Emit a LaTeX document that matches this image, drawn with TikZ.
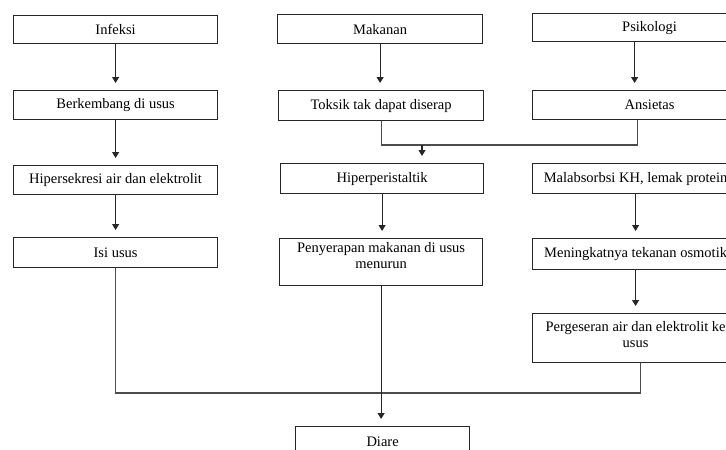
\documentclass[tikz,border=0pt]{standalone}
\usepackage{fontspec}
\setmainfont{Liberation Serif}
\usetikzlibrary{arrows.meta, positioning}

\begin{document}
\begin{tikzpicture}[
  x=1pt, y=-1pt,
  font=\fontsize{14.5}{16}\selectfont,
  box/.style={
    draw=black!85,
    line width=1.2pt,
    anchor=north west,
    align=center,
    inner sep=2pt,
    minimum height=29pt
  },
  arr/.style={
    draw=black!85,
    line width=1.1pt,
    -{Triangle[length=6pt,width=7pt]},
    shorten >=7pt
  },
  link/.style={
    draw=black!70,
    line width=1.1pt
  }
]

\useasboundingbox (0,0) rectangle (726,450);
\clip (0,0) rectangle (726,450);

% -------------------------------------------------------------------
% Infeksi column
% -------------------------------------------------------------------
\node[box, minimum width=204pt, minimum height=28pt] (infeksi) at (13,15)
{Infeksi};
\node[box, minimum width=204pt] (berkembang) at (13,90)
{Berkembang di usus};
\node[box, minimum width=204pt] (hipersekresi) at (13,165)
{Hipersekresi air dan elektrolit};
\node[box, minimum width=204pt, minimum height=30pt] (isi) at (13,237)
{Isi usus};

% -------------------------------------------------------------------
% Makanan column
% -------------------------------------------------------------------
\node[box, minimum width=205pt] (makanan) at (277,14)
{Makanan};
\node[box, minimum width=205pt, minimum height=30pt] (toksik) at (278,90)
{Toksik tak dapat diserap};
\node[box, minimum width=203pt, minimum height=30pt] (hiper) at (280,163)
{Hiperperistaltik};
\node[box, minimum width=203pt, minimum height=47pt, text depth=14pt] (penyerapan) at (279,238)
{Penyerapan makanan di usus\\menurun};
\node[box, minimum width=174pt, minimum height=30pt] (diare) at (295,426)
{Diare};

% -------------------------------------------------------------------
% Psikologi column
% -------------------------------------------------------------------
\node[box, minimum width=234pt, minimum height=28pt] (psikologi) at (532,13)
{Psikologi};
\node[box, minimum width=234pt] (ansietas) at (532,90)
{Ansietas};
\node[box, minimum width=206pt, minimum height=30pt] (malabsorbsi) at (532,163)
{Malabsorbsi KH, lemak protein};
\node[box, minimum width=206pt, minimum height=31pt] (meningkat) at (532,238)
{Meningkatnya tekanan osmotik};
\node[box, minimum width=206pt, minimum height=49pt, text depth=7pt] (pergeseran) at (532,313)
{Pergeseran air dan elektrolit ke\\usus};

% Arrows
\draw[arr] (infeksi.south) -- (infeksi.south |- berkembang.north);
\draw[arr] (berkembang.south) -- (berkembang.south |- hipersekresi.north);
\draw[arr] (hipersekresi.south) -- (hipersekresi.south |- isi.north);
\draw[arr] (makanan.south) -- (makanan.south |- toksik.north);
\draw[arr] (hiper.south) -- (hiper.south |- penyerapan.north);
\draw[arr] ([xshift=-15pt]psikologi.south) -- ([xshift=-15pt]psikologi.south |- ansietas.north);
\draw[arr] (malabsorbsi.south) -- (malabsorbsi.south |- meningkat.north);
\draw[arr] (meningkat.south) -- (meningkat.south |- pergeseran.north);

% Joining lines
\coordinate (join) at (422,145);
\draw[link] (toksik.south) |- (join) -| ([xshift=-12pt]ansietas.south);
\draw[arr] (join) -- (join |- hiper.north);

\coordinate (merge) at (380,393);
\draw[link] (isi.south) |- (merge) -| ([xshift=5pt]pergeseran.south);
\draw[arr] (penyerapan.south) -- (penyerapan.south |- diare.north);

\end{tikzpicture}
\end{document}
